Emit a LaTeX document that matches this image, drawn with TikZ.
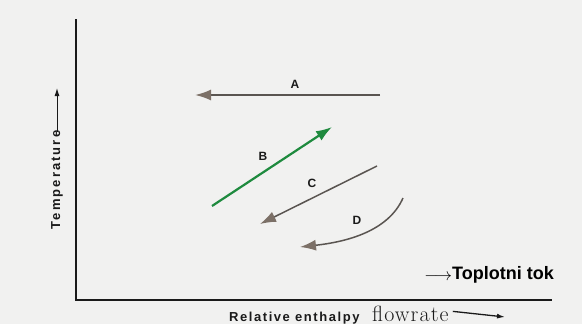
\documentclass[tikz,border=0pt]{standalone}
\usepackage{fontspec}
\setmainfont{Liberation Sans}
\newfontfamily\handfont{Latin Modern Roman}
\usepackage{tikz}
\usetikzlibrary{arrows.meta,positioning,calc}
\definecolor{htPaper}{HTML}{F1F1F0}
\definecolor{htAxis}{HTML}{1A1A1A}
\definecolor{htStream}{HTML}{5A5551}
\definecolor{htHead}{HTML}{7C7067}
\definecolor{htCold}{HTML}{1E8A3E}
\tikzset{
    % Streams
    htArrowBase/.style={line width=1.8pt, draw=htStream,
        -{Latex[length=16pt,width=11pt,color=htHead]}},
    hotStream/.style={htArrowBase},
    coldStream/.style={htArrowBase, line width=2.2pt, draw=htCold,
        -{Latex[length=16pt,width=11pt,color=htCold]}},
    htLabel/.style={font=\bfseries\fontsize{12}{13}\selectfont, text=htAxis, inner sep=1pt},
    % Axes
    htAxisLine/.style={line width=2.1pt, draw=htAxis},
    htAxisText/.style={font=\bfseries\fontsize{13}{14}\selectfont\addfontfeature{LetterSpace=16},
        text=htAxis, inner sep=1pt},
    htSmallArrow/.style={line width=1pt, draw=htAxis, -{Latex[length=8pt,width=5pt]}}
}
\begin{document}
\begin{tikzpicture}[x=1pt, y=-1pt]
    \fill[htPaper] (0,0) rectangle (582,324);
    \useasboundingbox (0,0) rectangle (582,324);

    % axes
    \coordinate (yTop) at (76,19);
    \coordinate (xEnd) at (552,300);
    \draw[htAxisLine] (yTop) |- (xEnd);

    \node[htAxisText, rotate=90] (tempLbl) at (57,180) {Temperature};
    \coordinate (tempTip) at (57,88);
    \draw[htSmallArrow] ([yshift=-2pt]tempLbl.east) -- (tempTip);

    \node[htAxisText, font=\bfseries\fontsize{13}{14}\selectfont\addfontfeature{LetterSpace=12}, anchor=base west] (enthLbl) at (228,321) {Relative enthalpy};
    \node[font=\handfont\fontsize{22}{23}\selectfont\addfontfeature{LetterSpace=5}, anchor=base west, inner sep=0pt, text=htAxis] (flowLbl) at (372,321) {flowrate};
    \coordinate (flowTip) at (505,317);
    \draw[htSmallArrow, line width=1.3pt] ([xshift=4pt,yshift=2pt]flowLbl.east) -- (flowTip);

    % stream ends
    \coordinate (aStart) at (380,95);
    \coordinate (aEnd) at (195,95);
    \coordinate (bStart) at (212,206);
    \coordinate (bEnd) at (332,127);
    \coordinate (cStart) at (377,166);
    \coordinate (cEnd) at (260,224);
    \coordinate (dStart) at (403,198);
    \coordinate (dEnd) at (300,247);

    \draw[hotStream] (aStart) -- (aEnd);
    \draw[coldStream] (bStart) -- (bEnd);
    \draw[hotStream, line width=1.5pt] (cStart) -- (cEnd);
    \draw[hotStream, line width=1.5pt] (dStart) .. controls (388,232) and (345,242) .. (dEnd);

    \node[htLabel] (aLbl) at (295,84) {A};
    \node[htLabel] (bLbl) at (263,156) {B};
    \node[htLabel] (cLbl) at (312,183) {C};
    \node[htLabel] (dLbl) at (357,220) {D};

    \node[font=\bfseries\fontsize{18}{20}\selectfont, anchor=east, inner sep=0pt] (tokLbl) at (554,275) {\raisebox{-1pt}{$\longrightarrow$}Toplotni tok};
\end{tikzpicture}
\end{document}
